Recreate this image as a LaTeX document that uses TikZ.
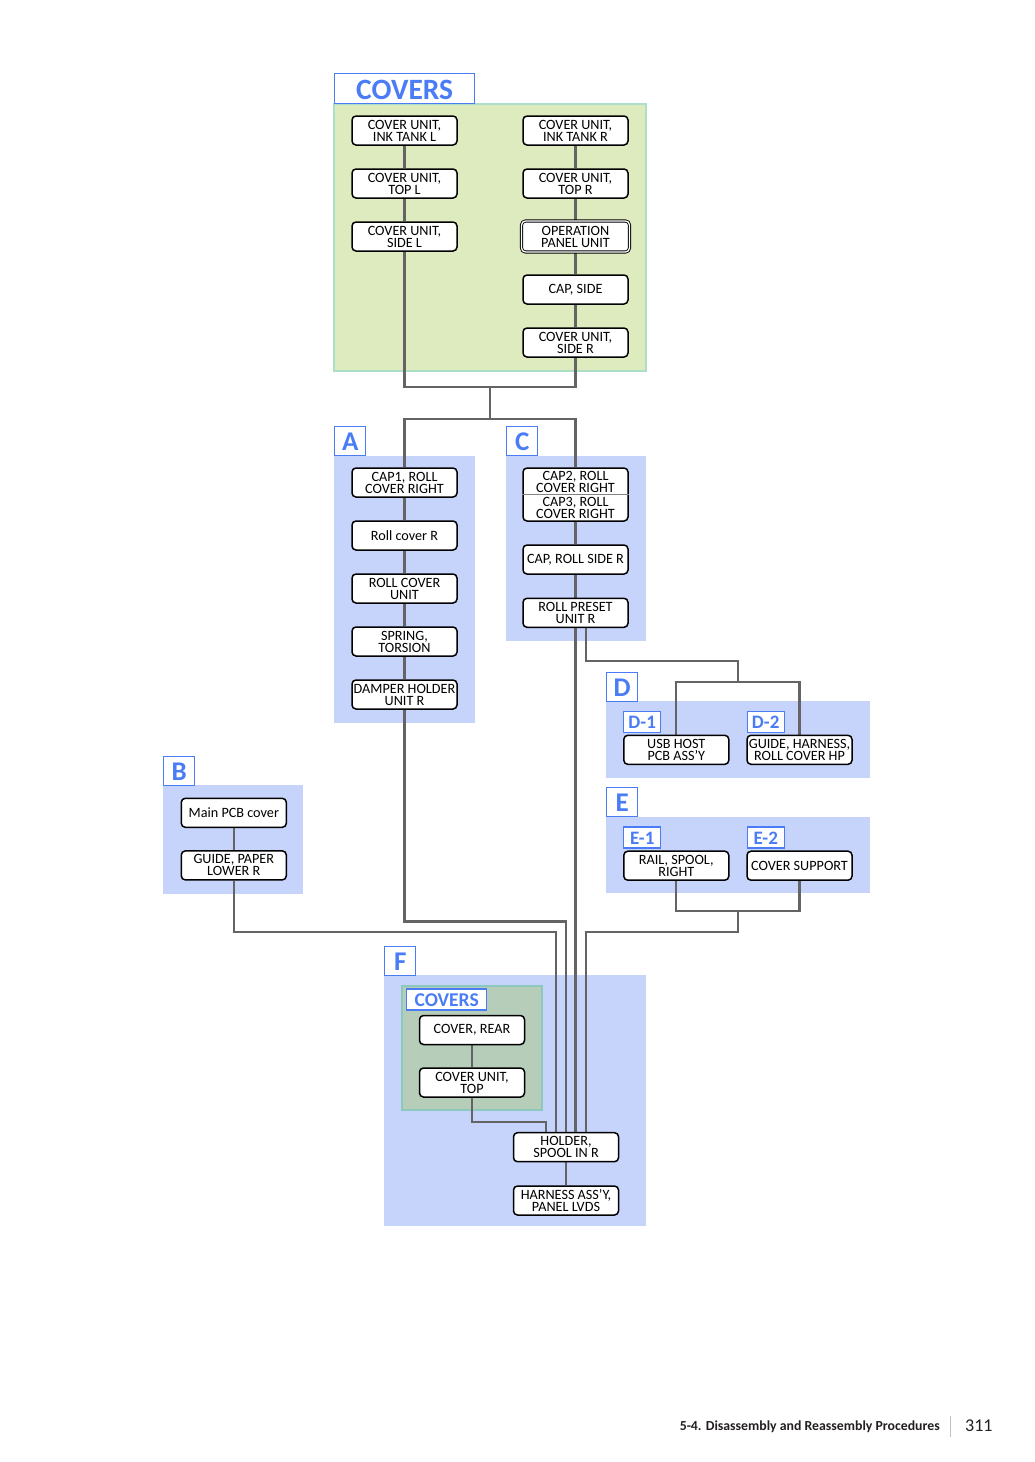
\documentclass[tikz,border=0pt]{standalone}
\usepackage{fontspec}
\setmainfont{Carlito}
\usetikzlibrary{calc}
\pgfdeclarelayer{bg}\pgfdeclarelayer{ln}
\pgfsetlayers{bg,ln,main}
\definecolor{regblue}{RGB}{198,212,252}
\definecolor{reggreen}{RGB}{221,235,191}
\definecolor{reggreenb}{RGB}{172,222,200}
\definecolor{innergreen}{RGB}{182,205,186}
\definecolor{innergreenb}{RGB}{140,200,190}
\definecolor{lblblue}{RGB}{74,124,246}
\definecolor{lngray}{RGB}{100,100,100}
\definecolor{foot}{RGB}{35,31,32}
\tikzset{
  part/.style={draw=black, line width=1.5pt, rounded corners=4pt, fill=white,
    minimum width=105pt, minimum height=29pt, inner sep=0pt, align=center,
    font=\fontsize{14.2}{12}\selectfont},
  dpart/.style={part, line width=0.9pt, double=white, double distance=1.3pt,
    minimum width=108pt, minimum height=31pt},
  lbl/.style={draw=lblblue, line width=1.4pt, fill=white, text=lblblue,
    font=\fontsize{27}{27}\selectfont\bfseries, inner sep=0pt,
    text height=20pt, text depth=0pt,
    minimum width=31pt, minimum height=29pt, anchor=south west},
  sublbl/.style={lbl, minimum width=37pt, minimum height=21pt,
    text height=14pt, font=\fontsize{19}{19}\selectfont\bfseries},
  conn/.style={draw=lngray, line width=2.2pt},
  regionb/.style={fill=regblue},
}
\begin{document}
\begin{tikzpicture}[x=1pt,y=-1pt]
\useasboundingbox (0,0) rectangle (1034,1462);
% ---------- regions ----------
\begin{pgfonlayer}{bg}
  \fill[fill=reggreen, draw=reggreenb, line width=1.5pt] (334,104) rectangle (646,371);
  \fill[regionb] (334,456) rectangle (475,723);
  \fill[regionb] (506,456) rectangle (646,641);
  \fill[regionb] (606,701) rectangle (870,778);
  \fill[regionb] (606,817) rectangle (870,893);
  \fill[regionb] (163,785) rectangle (303,894);
  \fill[regionb] (384,975) rectangle (646,1226);
  \filldraw[fill=innergreen, draw=innergreenb, line width=1.2pt] (402,986) rectangle (542,1110);
\end{pgfonlayer}
% ---------- labels ----------
\node[lbl, minimum width=140pt, minimum height=30pt, text height=23pt, font=\fontsize{29.5}{29.5}\selectfont\bfseries] (Lcov) at (334,104) {COVERS};
\node[lbl] (LA) at (334,456) {A};
\node[lbl] (LC) at (506,456) {C};
\node[lbl] (LD) at (606,702) {D};
\node[lbl] (LE) at (606,817) {E};
\node[lbl] (LB) at (163,786) {B};
\node[lbl] (LF) at (384,976) {F};
\node[sublbl] (LD1) at (623,733) {D-1};
\node[sublbl] (LD2) at (746.5,733) {D-2};
\node[sublbl] (LE1) at (623,848.5) {E-1};
\node[sublbl] (LE2) at (746.5,848.5) {E-2};
\node[sublbl, minimum width=80pt, text height=14.5pt, font=\fontsize{19.5}{19.5}\selectfont\bfseries] (LFc) at (406,1010.5) {COVERS};
% ---------- COVERS ----------
\node[part] (il) at (404.5,130.5) {COVER UNIT,\\INK TANK L};
\node[part] (tl) at (404.5,183.5) {COVER UNIT,\\TOP L};
\node[part] (sl) at (404.5,236.5) {COVER UNIT,\\SIDE L};
\node[part] (ir) at (575.5,130.5) {COVER UNIT,\\INK TANK R};
\node[part] (tr) at (575.5,183.5) {COVER UNIT,\\TOP R};
\node[dpart] (op) at (575.5,236.5) {OPERATION\\PANEL UNIT};
\node[part] (cs) at (575.5,289.5) {CAP, SIDE};
\node[part] (sr) at (575.5,342.5) {COVER UNIT,\\SIDE R};
% ---------- A ----------
\node[part] (a1) at (404.5,482.5) {CAP1, ROLL\\COVER RIGHT};
\node[part] (a2) at (404.5,535.5) {Roll cover R};
\node[part] (a3) at (404.5,588.5) {ROLL COVER\\UNIT};
\node[part] (a4) at (404.5,641.5) {SPRING,\\TORSION};
\node[part] (a5) at (404.5,694.5) {DAMPER HOLDER\\UNIT R};
% ---------- C ----------
\node[part, minimum height=53pt] (c1) at (575.5,494.5) {CAP2, ROLL\\COVER RIGHT\\[2pt]CAP3, ROLL\\COVER RIGHT};
\draw[draw=lngray!80, line width=0.8pt] (c1.west) -- (c1.east);
\node[part] (c2) at (575.5,559.5) {CAP, ROLL SIDE R};
\node[part] (c3) at (575.5,612.8) {ROLL PRESET\\UNIT R};
% ---------- D / E ----------
\node[part] (d1) at (676.3,749.8) {USB HOST\\PCB ASS'Y};
\node[part] (d2) at (799.5,749.8) {GUIDE, HARNESS,\\ROLL COVER HP};
\node[part] (e1) at (676.3,865.7) {RAIL, SPOOL,\\RIGHT};
\node[part] (e2) at (799.5,865.7) {COVER SUPPORT};
% ---------- B ----------
\node[part] (b1) at (233.8,812.8) {Main PCB cover};
\node[part] (b2) at (233.8,865.4) {GUIDE, PAPER\\LOWER R};
% ---------- F ----------
\node[part] (fr) at (472,1030) {COVER, REAR};
\node[part] (ft) at (472,1082.5) {COVER UNIT,\\TOP};
\node[part] (ho) at (566,1147.2) {HOLDER,\\SPOOL IN R};
\node[part] (hn) at (566,1200.5) {HARNESS ASS'Y,\\PANEL LVDS};
% ---------- connectors ----------
\coordinate (jt) at (490,387);
\coordinate (jb) at (490,419);
\coordinate (jd) at (737.7,681.7);
\coordinate (je) at (737.7,910.7);
\begin{pgfonlayer}{ln}
  \draw[conn] (il) -- (tl) -- (sl);
  \draw[conn] (ir) -- (tr) -- (op) -- (cs) -- (sr);
  \draw[conn] (sl.south) |- (jt) -| (sr.south);
  \draw[conn] (jt) -- (jb);
  \draw[conn] (a1.north) |- (jb) -| (c1.north);
  \draw[conn] (a1) -- (a2) -- (a3) -- (a4) -- (a5);
  \draw[conn] (c1) -- (c2) -- (c3);
  \draw[conn] (b1) -- (b2);
  \draw[conn] (fr) -- (ft);
  \draw[conn] (ho) -- (hn);
  % to D
  \draw[conn] (c3.south -| 586,0) |- (737.7,661) -- (jd);
  \draw[conn] (d1.north) |- (jd) -| (d2.north);
  % from E
  \draw[conn] (e1.south) |- (je) -| (e2.south);
  \draw[conn] (je) |- (586,932) -- (ho.north -| 586,0);
  % into holder
  \draw[conn] (c3.south) -- (ho.north -| c3.south);
  \draw[conn] (a5.south) |- (566,921.5) -- (ho.north);
  \draw[conn] (b2.south) |- (556,932) -- (ho.north -| 556,0);
  \draw[conn] (ft.south) |- (546,1121.7) -- (ho.north -| 546,0);
\end{pgfonlayer}
% ---------- footer ----------
\node[anchor=base east, inner sep=0pt, text=foot, font=\fontsize{13.8}{13.8}\selectfont\bfseries] (ftx) at (940,1430) {5-4. Disassembly and Reassembly Procedures};
\node[anchor=base west, inner sep=0pt, text=foot, font=\fontsize{18}{18}\selectfont] (pg) at (965,1431.5) {311};
\draw[draw=black!25, line width=1pt] (ftx.east) ++(10.5,-10) coordinate (sep1) -- ++(0,21) coordinate (sep2);
\end{tikzpicture}
\end{document}
